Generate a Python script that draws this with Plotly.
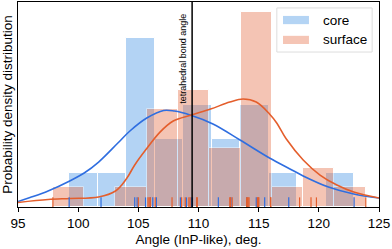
import numpy as np
import plotly.graph_objects as go

# ---------------- data ----------------
CORE_ANGLES = [99.25, 101.9, 104.7, 104.9, 105.6, 106.0, 106.2, 106.5, 108.5,
               109.0, 109.4, 109.5, 111.65, 112.7, 114.0, 114.8, 115.5, 117.5, 122.93]
SURFACE_ANGLES = [97.9, 105.0, 105.8, 105.9, 106.0, 106.4, 107.8,
                  108.6, 108.9, 109.2, 109.3, 109.85, 109.9,
                  112.6, 112.65, 112.8,
                  114.0, 114.1, 114.1, 114.2, 114.9, 114.9, 115.0, 115.0, 116.0, 116.0,
                  118.4, 119.35, 119.8, 123.9]
N_BINS = 10

# KDE curves (angle, density)
CORE_KDE_X = [95, 96, 97.5, 99.3, 100.5, 101.7, 103.3, 104.3, 105.7, 107.1, 108.0,
              109.3, 111.2, 113.45, 115.9, 117.6, 118.7, 120.8, 122.9, 125]
CORE_KDE_Y = [0.0036, 0.0062, 0.0105, 0.0171, 0.0223, 0.0295, 0.0420, 0.0499, 0.0584,
              0.0634, 0.0630, 0.0604, 0.0545, 0.0440, 0.0322, 0.0250, 0.0204, 0.0131,
              0.0085, 0.0059]
SURF_KDE_X = [95, 97.5, 99.3, 101.7, 103.1, 104.0, 104.7, 105.6, 106.8, 107.9, 109.4,
              111.0, 112.6, 113.7, 114.8, 115.9, 116.5, 117.3, 118.7, 120.1, 121.5,
              122.9, 125]
SURF_KDE_Y = [0.0030, 0.0049, 0.0056, 0.0066, 0.0105, 0.0184, 0.0276, 0.0374, 0.0492,
              0.0565, 0.0604, 0.0643, 0.0689, 0.0709, 0.0689, 0.0611, 0.0552, 0.0446,
              0.0309, 0.0210, 0.0144, 0.0098, 0.0059]

TETRA_ANGLE = 109.47
X_TICKS = [95, 100, 105, 110, 115, 120, 125]
SERIES_NAMES = ["core", "surface"]

# ---------------- styles ----------------
FONT = "Liberation Sans, Arial, sans-serif"
BLUE_BAR = "#4393e4"
ORANGE_BAR = "#e66e46"
BLUE_LINE = "#2f6ee0"
ORANGE_LINE = "#e45e2c"
BAR_ALPHA = 0.4
RUG_H = 0.047

fig = go.Figure()


def add_hist(data, color):
    dens, edges = np.histogram(data, bins=N_BINS, density=True)
    centers = (edges[:-1] + edges[1:]) / 2
    widths = np.diff(edges)
    fig.add_trace(go.Bar(x=centers, y=dens, width=widths, marker_color=color,
                         marker_line=dict(color="white", width=1),
                         opacity=BAR_ALPHA, showlegend=False, hoverinfo="skip"))


add_hist(CORE_ANGLES, BLUE_BAR)
add_hist(SURFACE_ANGLES, ORANGE_BAR)

fig.add_trace(go.Scatter(x=CORE_KDE_X, y=CORE_KDE_Y, mode="lines",
                         line=dict(color=BLUE_LINE, width=1.6, shape="spline"),
                         showlegend=False, hoverinfo="skip"))
fig.add_trace(go.Scatter(x=SURF_KDE_X, y=SURF_KDE_Y, mode="lines",
                         line=dict(color=ORANGE_LINE, width=1.6, shape="spline"),
                         showlegend=False, hoverinfo="skip"))


def rug(data, color):
    xs, ys = [], []
    for v in data:
        xs += [v, v, None]
        ys += [0, RUG_H, None]
    fig.add_trace(go.Scatter(x=xs, y=ys, mode="lines", yaxis="y2",
                             line=dict(color=color, width=1.2), showlegend=False,
                             hoverinfo="skip"))


rug(CORE_ANGLES, BLUE_LINE)
rug(SURFACE_ANGLES, ORANGE_LINE)

# tetrahedral reference line
fig.add_shape(type="line", x0=TETRA_ANGLE, x1=TETRA_ANGLE, xref="x", y0=0, y1=1,
              yref="paper", line=dict(color="black", width=1.5))
fig.add_annotation(text="tetrahedral bond angle", textangle=-90, x=TETRA_ANGLE, xref="x",
                   y=0.724, yref="paper", xanchor="right", yanchor="middle", xshift=-3,
                   showarrow=False, font=dict(family=FONT, size=9, color="black"))

# custom legend
fig.add_shape(type="rect", xref="paper", yref="paper", x0=0.717, x1=0.981, y0=0.756,
              y1=0.971, line=dict(color="#dddddd", width=1), fillcolor="rgba(255,255,255,0.8)")
legend_rows = [(0.912, BLUE_BAR), (0.815, ORANGE_BAR)]
for name, (yc, col) in zip(SERIES_NAMES, legend_rows):
    fig.add_shape(type="rect", xref="paper", yref="paper", x0=0.734, x1=0.806,
                  y0=yc - 0.02, y1=yc + 0.02, line=dict(width=0), fillcolor=col,
                  opacity=BAR_ALPHA)
    fig.add_annotation(text=name, xref="paper", yref="paper", x=0.838, y=yc,
                       xanchor="left", yanchor="middle", showarrow=False,
                       font=dict(family=FONT, size=13.5, color="black"))

fig.update_layout(
    width=392, height=249,
    margin=dict(l=18, r=13, t=2, b=42),
    paper_bgcolor="white", plot_bgcolor="white",
    barmode="overlay", bargap=0,
    font=dict(family=FONT, size=13.5, color="black"),
    xaxis=dict(range=[95, 125], tickvals=X_TICKS, ticks="outside", ticklen=4,
               tickcolor="black", showline=True, mirror=True, linecolor="black",
               linewidth=1.2, showgrid=False, zeroline=False,
               tickfont=dict(size=13.5),
               title=dict(text="Angle (InP-like), deg.", standoff=4,
                          font=dict(size=13.5))),
    yaxis=dict(range=[0, 0.1346], showticklabels=False, ticks="", showline=True,
               mirror=True, linecolor="black", linewidth=1.2, showgrid=False,
               zeroline=False,
               title=dict(text="Probability density distribution", standoff=3,
                          font=dict(size=13.5))),
    yaxis2=dict(range=[0, 1], overlaying="y", visible=False),
    showlegend=False,
    hovermode=False,
)

fig.write_html("out.html", config={"displayModeBar": False},
               post_script="document.body.style.margin='0px';document.body.style.overflow='hidden';")
